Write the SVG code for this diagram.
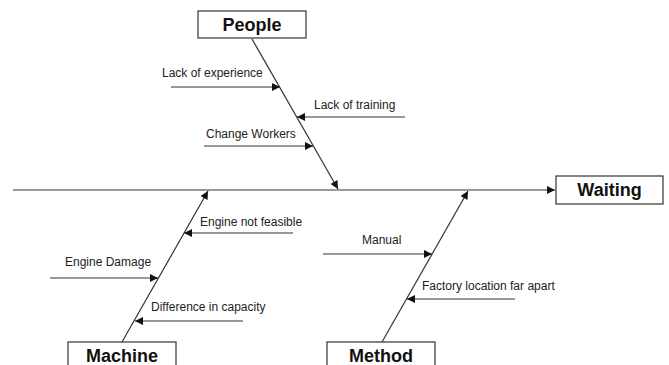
<svg xmlns="http://www.w3.org/2000/svg" width="669" height="365" viewBox="0 0 669 365">
  <style>
    .line { stroke: #333; stroke-width: 1.2; fill: none; }
    .box { fill: #fff; stroke: #333; stroke-width: 1.2; }
    .title { font-family: "Liberation Sans", Arial, sans-serif; font-size: 18px; font-weight: bold; fill: #111; text-anchor: middle; }
    .label { font-family: "Liberation Sans", Arial, sans-serif; font-size: 12px; fill: #222; }
  </style>
  <defs>
    <marker id="arrow" viewBox="0 0 10 10" refX="10" refY="5" markerWidth="9" markerHeight="8" markerUnits="userSpaceOnUse" orient="auto">
      <path d="M0,0 L10,5 L0,10 Z" fill="#111"/>
    </marker>
  </defs>
  <rect width="669" height="365" fill="#fff"/>

  <g id="connectors">
    <!-- main spine -->
    <line class="line" x1="13" y1="190" x2="555" y2="190" marker-end="url(#arrow)"/>
    <!-- category bones -->
    <line class="line" x1="252" y1="39" x2="338" y2="189" marker-end="url(#arrow)"/>
    <line class="line" x1="122" y1="342" x2="208" y2="191" marker-end="url(#arrow)"/>
    <line class="line" x1="382" y1="342" x2="468" y2="191" marker-end="url(#arrow)"/>
    <!-- People causes -->
    <line class="line" x1="171" y1="87" x2="280" y2="87" marker-end="url(#arrow)"/>
    <line class="line" x1="405" y1="117" x2="297" y2="117" marker-end="url(#arrow)"/>
    <line class="line" x1="204" y1="146" x2="313" y2="146" marker-end="url(#arrow)"/>
    <!-- Machine causes -->
    <line class="line" x1="293" y1="233" x2="184" y2="233" marker-end="url(#arrow)"/>
    <line class="line" x1="50" y1="278" x2="158" y2="278" marker-end="url(#arrow)"/>
    <line class="line" x1="243" y1="321" x2="135" y2="321" marker-end="url(#arrow)"/>
    <!-- Method causes -->
    <line class="line" x1="323" y1="254" x2="432" y2="254" marker-end="url(#arrow)"/>
    <line class="line" x1="515" y1="299" x2="407" y2="299" marker-end="url(#arrow)"/>
  </g>

  <g id="people">
    <rect class="box" x="198" y="11" width="108" height="27"/>
    <text class="title" x="252" y="31">People</text>
  </g>
  <g id="machine">
    <rect class="box" x="68" y="342" width="108" height="30"/>
    <text class="title" x="122" y="362">Machine</text>
  </g>
  <g id="method">
    <rect class="box" x="327" y="342" width="108" height="30"/>
    <text class="title" x="381" y="362">Method</text>
  </g>
  <g id="waiting">
    <rect class="box" x="556" y="176" width="107" height="28"/>
    <text class="title" x="609.5" y="196">Waiting</text>
  </g>

  <g id="cause-labels">
    <text class="label" x="162" y="77">Lack of experience</text>
    <text class="label" x="314" y="109">Lack of training</text>
    <text class="label" x="206" y="138">Change Workers</text>
    <text class="label" x="200" y="226">Engine not feasible</text>
    <text class="label" x="65" y="266">Engine Damage</text>
    <text class="label" x="151" y="311">Difference in capacity</text>
    <text class="label" x="362" y="244">Manual</text>
    <text class="label" x="422" y="290">Factory location far apart</text>
  </g>
</svg>
